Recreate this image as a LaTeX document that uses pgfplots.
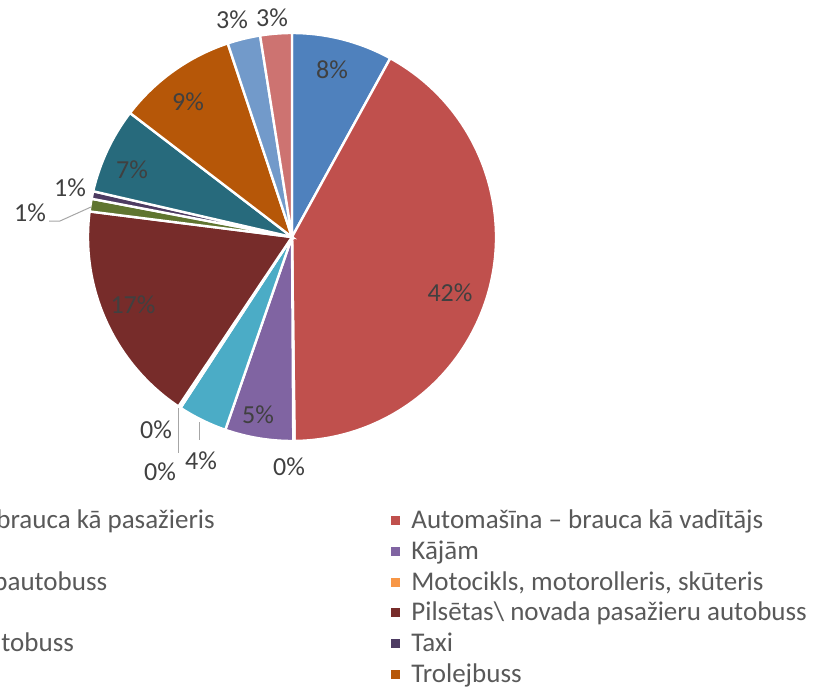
\documentclass[border=0pt]{standalone}
\usepackage{fontspec}
\setmainfont{Carlito}
\usepackage{pgfplots}
\usepackage{pgfplotstable}
\pgfplotsset{compat=1.18}

\definecolor{c0}{HTML}{4F81BD}
\definecolor{c1}{HTML}{C0504D}
\definecolor{c2}{HTML}{9BBB59}
\definecolor{c3}{HTML}{8064A2}
\definecolor{c4}{HTML}{4BACC6}
\definecolor{c5}{HTML}{F79646}
\definecolor{c6}{HTML}{2C4D75}
\definecolor{c7}{HTML}{772C2A}
\definecolor{c8}{HTML}{5F7530}
\definecolor{c9}{HTML}{4D3B62}
\definecolor{c10}{HTML}{276A7C}
\definecolor{c11}{HTML}{B65708}
\definecolor{c12}{HTML}{729ACA}
\definecolor{c13}{HTML}{CD7371}
\definecolor{lbl}{HTML}{404040}
\definecolor{legtxt}{HTML}{595959}
\definecolor{leader}{HTML}{A6A6A6}

% share of each slice, clockwise from 12 o'clock
\pgfplotstableread{
slice value
0  8.0
1  41.8
2  0.1
3  5.4
4  3.9
5  0.1
6  0.1
7  17.6
8  1.0
9  0.6
10 6.8
11 9.5
12 2.6
13 2.5
}\piedata

% start / end angles of every slice
\pgfplotstablegetrowsof{\piedata}
\pgfmathtruncatemacro\lastrow{\pgfplotsretval-1}
\def\acc{0}
\pgfplotsforeachungrouped \i in {0,...,\lastrow}{%
  \pgfplotstablegetelem{\i}{value}\of\piedata
  \let\v\pgfplotsretval
  \pgfmathsetmacro\sa{90-3.6*\acc}%
  \pgfmathsetmacro\acc{\acc+\v}%
  \pgfmathsetmacro\ea{90-3.6*\acc}%
  \expandafter\xdef\csname sa\i\endcsname{\sa}%
  \expandafter\xdef\csname ea\i\endcsname{\ea}%
}

\newcommand\pieslice[1]{%
  \edef\temp{\noexpand\fill[fill=c#1,draw=white,line width=1.2pt]
    (axis cs:292,237) -- ++(\csname sa#1\endcsname:102pt)
    arc[start angle=\csname sa#1\endcsname,end angle=\csname ea#1\endcsname,radius=102pt]
    -- cycle;}%
  \temp}

\tikzset{legfont/.style={anchor=base west, inner sep=0pt, text=legtxt,
  font=\fontsize{13.5}{15}\selectfont}}
\newcommand\legrow[3]{%
  \fill[#2] (axis cs:391,#1-4.5) rectangle (axis cs:400,#1+4.5);
  \node[legfont] at (axis cs:411,#1+8) {#3};}

\begin{document}
\begin{tikzpicture}
\useasboundingbox (0,0) rectangle (407.5pt,343.5pt);
\clip (0,0) rectangle (407.5pt,343.5pt);
\begin{axis}[
  at={(0,0)}, anchor=south west,
  x=0.5pt, y=0.5pt,
  xmin=0, xmax=815, ymin=0, ymax=687,
  y dir=reverse,
  hide axis,
  clip=false,
]
\pgfplotsinvokeforeach{0,...,13}{\pieslice{#1}}

% leader lines
\draw[leader, line width=0.5pt] (axis cs:199,422) -- (axis cs:199,440);
\draw[leader, line width=0.5pt] (axis cs:178,408) -- (axis cs:178,453);
\draw[leader, line width=0.5pt] (axis cs:49,221) -- (axis cs:60,221) -- (axis cs:91,207);

% data labels
\addplot[only marks, mark=none, nodes near coords, point meta=explicit symbolic,
  nodes near coords style={anchor=center, font=\fontsize{13}{15}\selectfont, text=lbl}]
  coordinates {
  (332,70)[8\%] (450,293)[42\%] (289,467)[0\%] (258,415)[5\%]
  (201,461)[4\%] (156,430)[0\%] (160,472)[0\%] (133,305)[17\%]
  (30,213)[1\%] (70,188)[1\%] (132,170)[7\%] (188,102)[9\%]
  (232,20)[3\%] (272,18)[3\%]
  };

% legend, right column
\legrow{520}{c1}{Automašīna – brauca kā vadītājs}
\legrow{551}{c3}{Kājām}
\legrow{582}{c5}{Motocikls, motorolleris, skūteris}
\legrow{612}{c7}{Pilsētas\textbackslash\ novada pasažieru autobuss}
\legrow{643}{c9}{Taxi}
\legrow{674}{c11}{Trolejbuss}
% legend, left column (cut off by the frame)
\node[legfont] at (axis cs:-4,528) {brauca kā pasažieris};
\node[legfont] at (axis cs:-7,590) {pautobuss};
\node[legfont] at (axis cs:1,651) {tobuss};
\end{axis}
\end{tikzpicture}
\end{document}
